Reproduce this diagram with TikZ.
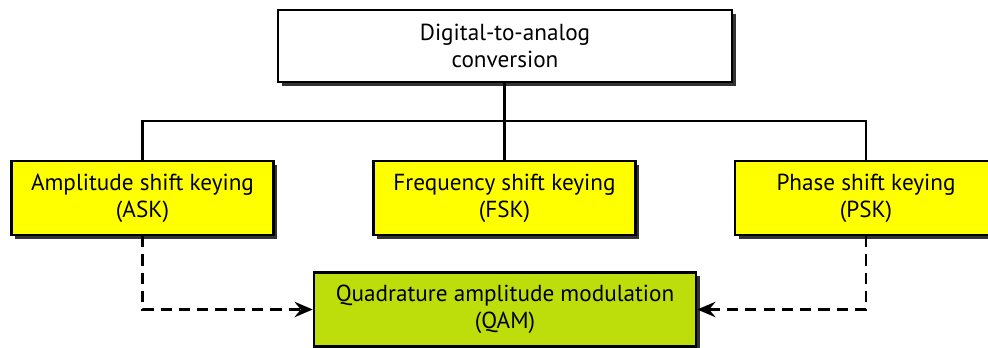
\documentclass[tikz,border=0pt]{standalone}
\usepackage{fontspec}
\setmainfont{PT Sans}
\usepackage{tikz}
\usetikzlibrary{shadows,arrows.meta}
\definecolor{keyyellow}{RGB}{255,255,0}
\definecolor{qamgreen}{RGB}{190,222,12}

\begin{document}
\begin{tikzpicture}[x=0.025cm, y=-0.025cm, line width=1.7pt,
    box/.style = {draw, inner sep=0pt, align=center, minimum height=1.85cm,
        font=\fontsize{16.5}{19}\selectfont,
        drop shadow={shadow xshift=2.6pt, shadow yshift=-2.6pt, fill=black!80, opacity=1}},
    keybox/.style = {box, fill=keyyellow, minimum width=6.55cm},
    link/.style = {dashed, dash pattern=on 8pt off 5pt, -{Stealth[length=13pt,width=11pt,inset=4.5pt]}}]
    \useasboundingbox (0,0) rectangle (988,348);
    \node[box, fill=white, minimum width=11.35cm, minimum height=1.8cm] (dac) at (505,46) {Digital-to-analog\\conversion};
    \node[keybox] (ask) at (142.5,198) {Amplitude shift keying\\(ASK)};
    \node[keybox] (fsk) at (504.5,198) {Frequency shift keying\\(FSK)};
    \node[keybox] (psk) at (866,198) {Phase shift keying\\(PSK)};
    \node[box, fill=qamgreen, minimum width=9.55cm] (qam) at (505,309.5) {Quadrature amplitude modulation\\(QAM)};
    \coordinate (bus) at (504.5,121);
    \draw (dac.south -| fsk.north) -- (fsk.north);
    \draw (ask.north) |- (bus) -| (psk.north);
    \draw[link] (ask.south) |- (qam.west);
    \draw[link] (psk.south) |- (qam.east);
\end{tikzpicture}
\end{document}
